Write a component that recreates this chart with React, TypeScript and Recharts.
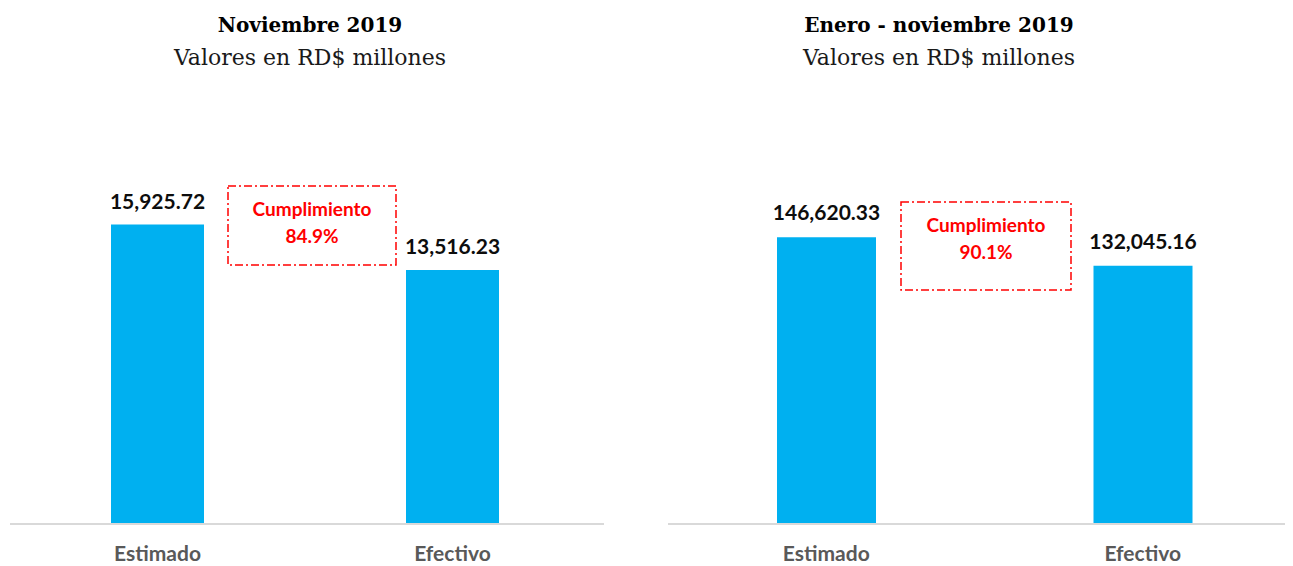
import { BarChart, Bar, XAxis, YAxis, LabelList } from "recharts";

const categories = ["Estimado", "Efectivo"];
const noviembre = [15925.72, 13516.23];
const eneroNoviembre = [146620.33, 132045.16];

const leftData = categories.map((name, i) => ({ name, value: noviembre[i] }));
const rightData = categories.map((name, i) => ({ name, value: eneroNoviembre[i] }));

const BLUE = "#00b0f0";
const SERIF = "'DejaVu Serif', serif";
const SANS = "Lato, 'Open Sans', sans-serif";

const fmt = (v: any) =>
    Number(v).toLocaleString("en-US", { minimumFractionDigits: 2, maximumFractionDigits: 2 });

const pct = (vals: number[]) => ((vals[1] / vals[0]) * 100).toFixed(1) + "%";

function Titles({ center, title }: { center: number; title: string }) {
    return (
        <>
            <div
                style={{
                    position: "absolute",
                    left: center - 200,
                    width: 400,
                    top: 7,
                    textAlign: "center",
                    fontFamily: SERIF,
                    fontWeight: "bold",
                    fontSize: 20,
                    lineHeight: "20px",
                    color: "#000",
                    whiteSpace: "nowrap",
                }}
            >
                {title}
            </div>
            <div
                style={{
                    position: "absolute",
                    left: center - 200,
                    width: 400,
                    top: 39,
                    textAlign: "center",
                    fontFamily: SERIF,
                    fontSize: 22,
                    lineHeight: "22px",
                    color: "#1a1a1a",
                    whiteSpace: "nowrap",
                }}
            >
                Valores en RD$ millones
            </div>
        </>
    );
}

function CumplBox({ x, y, w, h, value }: { x: number; y: number; w: number; h: number; value: string }) {
    return (
        <svg style={{ position: "absolute", left: x, top: y }} width={w} height={h}>
            <rect
                x={1}
                y={1}
                width={w - 2}
                height={h - 2}
                fill="none"
                stroke="#ff0000"
                strokeWidth={1.5}
                strokeDasharray="8 3 2 3"
            />
            <text x={w / 2} y={31} textAnchor="middle" fontFamily={SANS} fontWeight="bold" fontSize={19} fill="#ff0000">
                Cumplimiento
            </text>
            <text x={w / 2} y={58} textAnchor="middle" fontFamily={SANS} fontWeight="bold" fontSize={19} fill="#ff0000">
                {value}
            </text>
        </svg>
    );
}

function SmallChart({ data, width, top, max, barSize, padRight, labelOffset }: any) {
    return (
        <BarChart
            width={width}
            height={558}
            data={data}
            margin={{ top, right: 0, left: 2, bottom: 0 }}
        >
            <XAxis
                dataKey="name"
                axisLine={{ stroke: "#d9d9d9", strokeWidth: 2 }}
                tickLine={false}
                tickSize={0}
                tickMargin={22}
                padding={{ left: 0, right: padRight }}
                tick={{ fill: "#595959", fontFamily: SANS, fontWeight: "bold", fontSize: 21 }}
                height={42}
                interval={0}
            />
            <YAxis hide type="number" domain={[0, max]} />
            <Bar dataKey="value" fill={BLUE} barSize={barSize} isAnimationActive={false}>
                <LabelList
                    dataKey="value"
                    position="top"
                    offset={labelOffset}
                    formatter={fmt}
                    style={{ fill: "#0d0d0d", fontFamily: SANS, fontWeight: "bold", fontSize: 21 }}
                />
            </Bar>
        </BarChart>
    );
}

export default function App() {
    return (
        <div
            style={{
                position: "relative",
                width: 1285,
                height: 558,
                overflow: "hidden",
                background: "#fff",
            }}
        >
            <Titles center={302} title="Noviembre 2019" />
            <Titles center={931} title="Enero - noviembre 2019" />

            <div style={{ position: "absolute", left: 0, top: 0 }}>
                <SmallChart
                    data={leftData}
                    width={596}
                    top={140}
                    max={20000}
                    barSize={93}
                    padRight={4}
                    labelOffset={16}
                />
            </div>
            <div style={{ position: "absolute", left: 658, top: 0 }}>
                <SmallChart
                    data={rightData}
                    width={635}
                    top={164}
                    max={180000}
                    barSize={99}
                    padRight={0}
                    labelOffset={17}
                />
            </div>

            <CumplBox x={219} y={177} w={170} h={81} value={pct(noviembre)} />
            <CumplBox x={892} y={193} w={172} h={90} value={pct(eneroNoviembre)} />
        </div>
    );
}
